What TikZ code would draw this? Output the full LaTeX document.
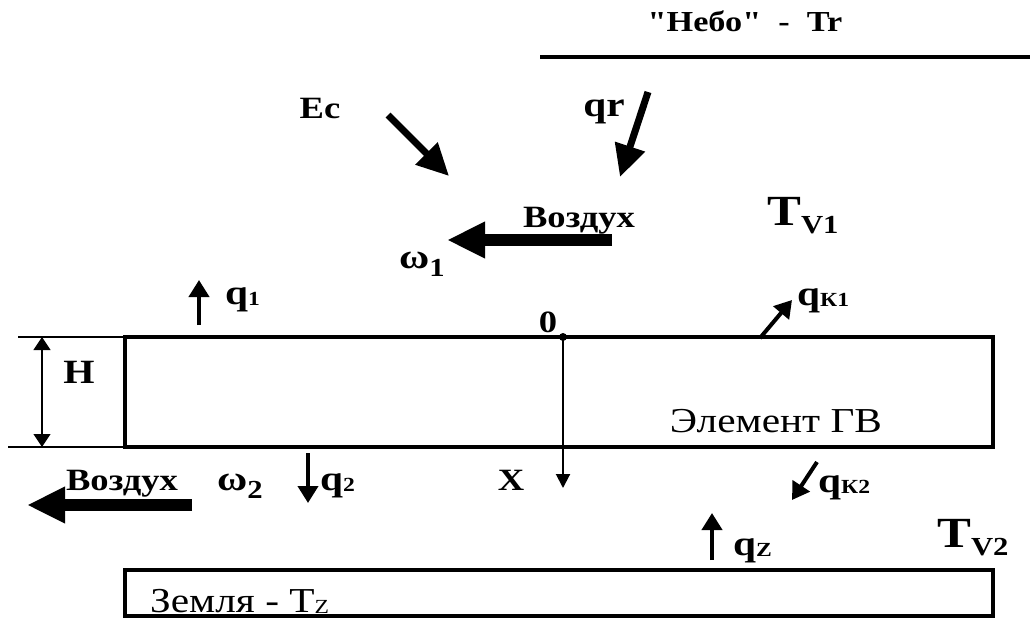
\documentclass[tikz,border=0pt]{standalone}
\usepackage{fontspec}
\setmainfont{Liberation Serif}[FakeStretch=1.18, Ligatures=TeXOff]
\usepackage{tikz}
\usetikzlibrary{arrows.meta}
\newcommand\lowidx[1]{\raisebox{-1pt}{\fontsize{20}{20}\selectfont #1}}
\newcommand\tidx[1]{\raisebox{-8pt}{\fontsize{26}{26}\selectfont #1}}
\tikzset{
    scheme label/.style={font=\bfseries\fontsize{31}{32}\selectfont, inner sep=0pt},
    scheme flux/.style={scheme label, font=\bfseries\fontsize{35}{35}\selectfont},
    scheme title/.style={scheme label, font=\bfseries\fontsize{29}{30}\selectfont},
    scheme temp/.style={scheme label, font=\bfseries\fontsize{43}{43}\selectfont},
    scheme plain/.style={font=\fontsize{35}{36}\selectfont, inner sep=0pt},
    scheme layer/.style={draw, line width=4pt, inner sep=0pt, outer sep=0pt},
    scheme wall/.style={line width=4pt},
    scheme thin/.style={line width=1.3pt},
    dim arrow/.style={{Triangle[length=13pt,width=17pt]}-{Triangle[length=13pt,width=17pt]}, line width=1.3pt},
    axis arrow/.style={-{Triangle[length=14pt,width=14pt]}, line width=2pt},
    heat arrow/.style={-{Triangle[length=17pt,width=20pt]}, line width=4pt},
    ray arrow/.style={-{Triangle[length=32pt,width=30pt]}, line width=7pt},
    wind arrow/.style={-{Triangle[length=38pt,width=34pt]}, line width=12pt}
}
\begin{document}
\begin{tikzpicture}[x=1pt,y=-1pt]
\useasboundingbox (0,0) rectangle (1030,619);

% sky
\coordinate (sky-l) at (540,57);
\coordinate (sky-r) at (1030,57);
\draw[scheme wall] (sky-l) -- (sky-r);
\node[scheme title, anchor=base] (sky) at (745,31) {"Небо" \ -\ \ Tr};

% radiation from above
\node[scheme label, anchor=base] (ec) at (320,118) {Ec};
\coordinate (ec-s) at (388,115);
\coordinate (ec-e) at (449,176);
\draw[ray arrow] (ec-s) -- (ec-e);
\node[scheme flux, anchor=base] (qr) at (604,116) {qr};
\coordinate (qr-s) at (648,92);
\coordinate (qr-e) at (620,177);
\draw[ray arrow] (qr-s) -- (qr-e);

% upper air
\node[scheme label, anchor=base] (air1) at (579,227) {Воздух};
\coordinate (air1-s) at (612,240);
\coordinate (air1-e) at (447,240);
\draw[wind arrow] (air1-s) -- (air1-e);
\node[scheme flux, anchor=base] (w1) at (422,268) {ω\tidx{1}};
\node[scheme temp, anchor=base west] (tv1) at (767,225) {T\tidx{V1}};

% element
\node[scheme layer, minimum width=868pt, minimum height=110pt] (elem) at (559,392) {};
\node[scheme plain, anchor=base] (elemtxt) at (776,432) {Элемент ГВ};
\coordinate (ext-t) at (18,337);
\coordinate (ext-b) at (8,447);
\draw[scheme thin] (ext-t) -- (elem.north west);
\draw[scheme thin] (ext-b) -- (elem.south west);
\coordinate (h-t) at (42,337);
\coordinate (h-b) at (42,447);
\draw[dim arrow] (h-t) -- (h-b);
\node[scheme label, font=\bfseries\fontsize{34}{34}\selectfont, anchor=base] (h) at (79,383) {H};

% axis
\node[circle, fill, inner sep=0pt, minimum size=8pt] (orig) at (563,337) {};
\node[scheme label, anchor=base] (zero) at (548,332) {0};
\coordinate (x-e) at (563,488);
\draw[axis arrow] (orig.center) -- (x-e);
\node[scheme label, anchor=base] (x) at (511,490) {X};

% fluxes
\coordinate (q1-s) at (199,325);
\coordinate (q1-e) at (199,280);
\draw[heat arrow] (q1-s) -- (q1-e);
\node[scheme flux, anchor=base west] (q1) at (225,304) {q\lowidx{1}};
\coordinate (qk1-s) at (760,338);
\coordinate (qk1-e) at (792,300);
\draw[heat arrow] (qk1-s) -- (qk1-e);
\node[scheme flux, anchor=base west] (qk1) at (797,305) {q\lowidx{К1}};
\coordinate (q2-s) at (308,453);
\coordinate (q2-e) at (308,503);
\draw[heat arrow] (q2-s) -- (q2-e);
\node[scheme flux, anchor=base west] (q2) at (320,490) {q\lowidx{2}};
\coordinate (qk2-s) at (817,462);
\coordinate (qk2-e) at (792,500);
\draw[heat arrow] (qk2-s) -- (qk2-e);
\node[scheme flux, anchor=base west] (qk2) at (818,492) {q\lowidx{К2}};

% lower air
\node[scheme label, anchor=base] (air2) at (122,490) {Воздух};
\node[scheme flux, anchor=base west] (w2) at (217,490) {ω\tidx{2}};
\coordinate (air2-s) at (192,505);
\coordinate (air2-e) at (27,505);
\draw[wind arrow] (air2-s) -- (air2-e);

% ground
\coordinate (qz-s) at (712,560);
\coordinate (qz-e) at (712,513);
\draw[heat arrow] (qz-s) -- (qz-e);
\node[scheme flux, anchor=base west] (qz) at (733,555) {q\lowidx{Z}};
\node[scheme temp, anchor=base west] (tv2) at (937,547) {T\tidx{V2}};
\node[scheme layer, minimum width=868pt, minimum height=46pt] (earth) at (559,593) {};
\node[scheme plain, anchor=base west] (earthtxt) at (150,612) {Земля - T\lowidx{Z}};
\end{tikzpicture}
\end{document}
